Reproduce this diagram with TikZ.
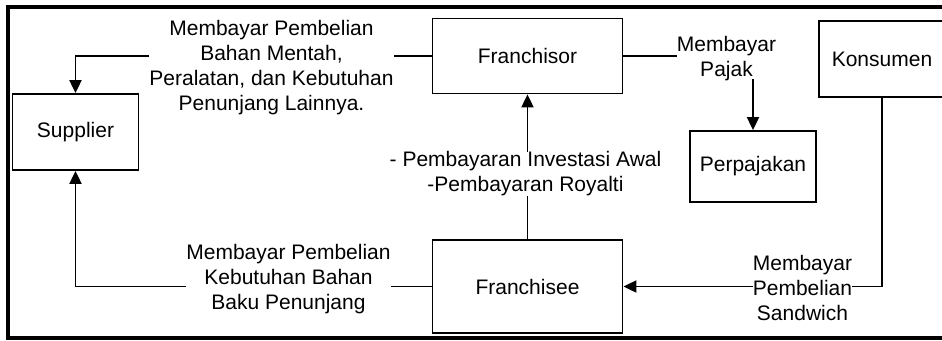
\documentclass[tikz,border=0pt]{standalone}
\usepackage{fontspec}
\setmainfont{Liberation Sans}
\usetikzlibrary{arrows.meta}
\begin{document}
\begin{tikzpicture}[x=1pt,y=-1pt,
  box/.style={draw,line width=1.8pt,inner sep=0pt,font=\fontsize{21}{25}\selectfont},
  lbl/.style={inner sep=0pt,align=center,font=\fontsize{21}{25}\selectfont},
  flow/.style={line width=1.9pt},
  tip/.style={flow,-{Triangle[width=12pt,length=13pt]}}]
\useasboundingbox (0,0) rectangle (942,340);
% outer frame (its right side runs off the page)
\draw[line width=3.6pt] (960,7) -- (8,7) -- (8,338) -- (960,338);

% boxes
\node[box,minimum width=190pt,minimum height=75pt] (franchisor) at (527.5,56) {Franchisor};
\node[box,minimum width=126pt,minimum height=76pt] (supplier) at (75.5,132) {Supplier};
\node[box,minimum width=126pt,minimum height=71pt] (pajak) at (753,166.5) {Perpajakan};
\node[box,minimum width=126pt,minimum height=76pt] (konsumen) at (882,59) {Konsumen};
\node[box,minimum width=190pt,minimum height=93pt] (franchisee) at (527.5,286.5) {Franchisee};

% labels
\node[lbl] (lA) at (271.5,68) {Membayar Pembelian\\Bahan Mentah,\\Peralatan, dan Kebutuhan\\Penunjang Lainnya.};
\node[lbl] (lP) at (726.5,59) {Membayar\\Pajak};
\node[lbl] (lR) at (525.5,174) {- Pembayaran Investasi Awal\\-Pembayaran Royalti};
\node[lbl] (lS) at (802.5,288) {Membayar\\Pembelian\\Sandwich};
\node[lbl] (lB) at (288.5,279) {Membayar Pembelian\\Kebutuhan Bahan\\Baku Penunjang};

% franchisor pays the supplier
\draw[flow] (franchisor.west) -- (lA.east |- franchisor.west);
\draw[tip] (lA.west |- franchisor.west) -| (supplier.north);
% franchisor pays taxes
\draw[flow] (franchisor.east) -- (lP.west |- franchisor.east);
\draw[tip] (lP.south -| pajak.north) ++(0,-2) -- (pajak.north);
% franchisee pays the franchisor
\draw[flow] (franchisee.north) -- (lR.south -| franchisee.north);
\draw[tip] (lR.north -| franchisor.south) -- (franchisor.south);
% consumer pays the franchisee
\draw[flow] (konsumen.south) |- (lS.east |- franchisee.east);
\draw[tip] (lS.west |- franchisee.east) -- (franchisee.east);
% franchisee pays the supplier
\draw[flow] (franchisee.west) -- (lB.east |- franchisee.west);
\draw[tip] (lB.west |- franchisee.west) -| (supplier.south);
\end{tikzpicture}
\end{document}
